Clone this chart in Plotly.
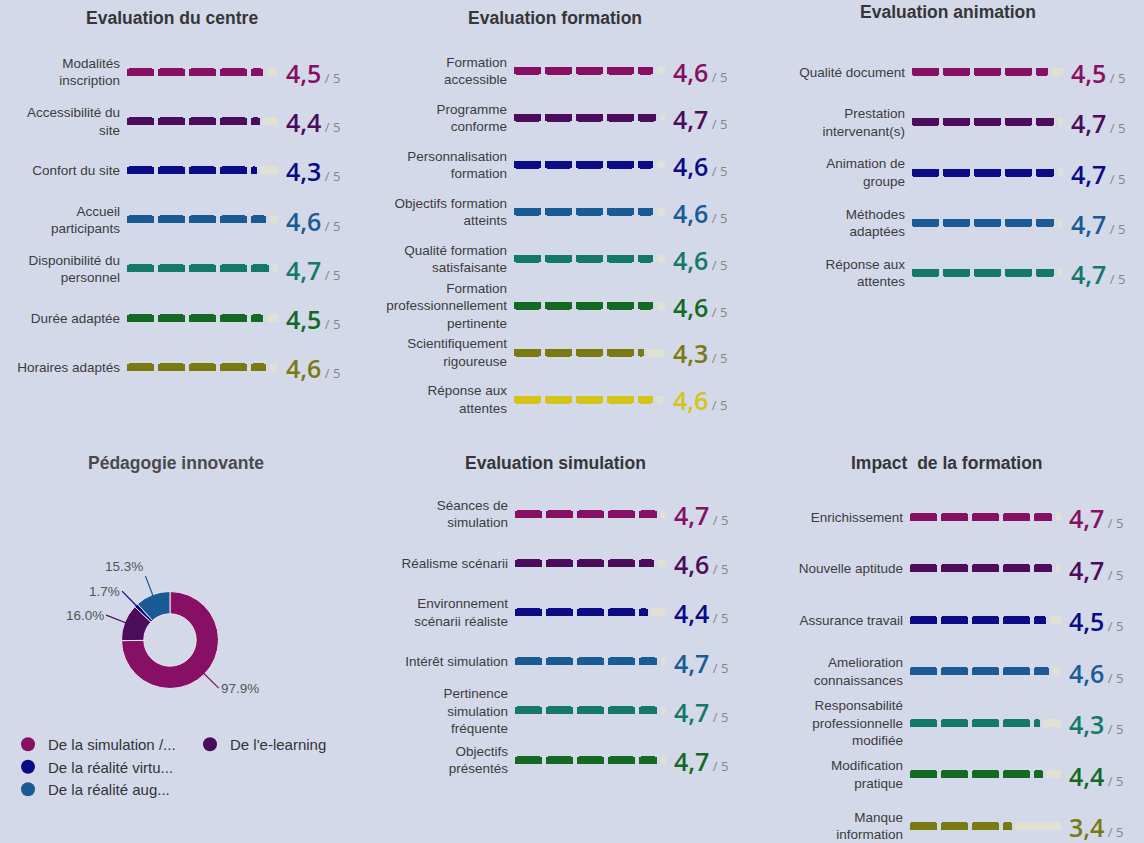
import math
import plotly.graph_objects as go

# ---------------- data ----------------
centre_labels = ["Modalités<br>inscription", "Accessibilité du<br>site", "Confort du site",
                 "Accueil<br>participants", "Disponibilité du<br>personnel", "Durée adaptée",
                 "Horaires adaptés"]
centre_values = [4.5, 4.4, 4.3, 4.6, 4.7, 4.5, 4.6]

formation_labels = ["Formation<br>accessible", "Programme<br>conforme", "Personnalisation<br>formation",
                    "Objectifs formation<br>atteints", "Qualité formation<br>satisfaisante",
                    "Formation<br>professionnellement<br>pertinente", "Scientifiquement<br>rigoureuse",
                    "Réponse aux<br>attentes"]
formation_values = [4.6, 4.7, 4.6, 4.6, 4.6, 4.6, 4.3, 4.6]

animation_labels = ["Qualité document", "Prestation<br>intervenant(s)", "Animation de<br>groupe",
                    "Méthodes<br>adaptées", "Réponse aux<br>attentes"]
animation_values = [4.5, 4.7, 4.7, 4.7, 4.7]

simulation_labels = ["Séances de<br>simulation", "Réalisme scénarii", "Environnement<br>scénarii réaliste",
                     "Intérêt simulation", "Pertinence<br>simulation<br>fréquente", "Objectifs<br>présentés"]
simulation_values = [4.7, 4.6, 4.4, 4.7, 4.7, 4.7]

impact_labels = ["Enrichissement", "Nouvelle aptitude", "Assurance travail",
                 "Amelioration<br>connaissances", "Responsabilité<br>professionnelle<br>modifiée",
                 "Modification<br>pratique", "Manque<br>information"]
impact_values = [4.7, 4.7, 4.5, 4.6, 4.3, 4.4, 3.4]

pedago_labels = ["De la simulation /...", "De l'e-learning", "De la réalité virtu...", "De la réalité aug..."]
pedago_values = [97.9, 16.0, 1.7, 15.3]

SCALE_MAX = 5

# ---------------- style ----------------
W, H = 1144, 843
BG = "#D4D9EA"
PALETTE = ["#870F64", "#4B0C5B", "#0B0B86", "#1A5B96", "#14786A", "#146A23", "#7B7A10", "#D4C419"]
TRACK = "#E1E1D3"
UNIT = 31          # px per scale point
GAP = 0.12         # gap between segments (scale units)
BAR_PX = 8
LABEL_FONT = "Liberation Sans, Arial, sans-serif"
NUM_FONT = "Open Sans, sans-serif"


def px2x(px):
    return px / W


def px2y(py):
    return 1 - py / H


panels = [
    dict(title="Evaluation du centre", labels=centre_labels, values=centre_values,
         x0=127, yfirst=72, ystep=49.2, tx=172, ty=18),
    dict(title="Evaluation formation", labels=formation_labels, values=formation_values,
         x0=514, yfirst=71, ystep=46.9, tx=555, ty=18),
    dict(title="Evaluation animation", labels=animation_labels, values=animation_values,
         x0=912, yfirst=72, ystep=50.25, tx=948, ty=12),
    dict(title="Evaluation simulation", labels=simulation_labels, values=simulation_values,
         x0=515, yfirst=514, ystep=49.2, tx=555, ty=463),
    dict(title="Impact  de la formation", labels=impact_labels, values=impact_values,
         x0=910, yfirst=517, ystep=51.5, tx=947, ty=463),
]

fig = go.Figure()
annotations = []
layout_axes = {}

for i, p in enumerate(panels, start=1):
    xs = "" if i == 1 else str(i)
    xref, yref = "x" + xs, "y" + xs
    labels, values = p["labels"], p["values"]
    n = len(labels)
    colors = [PALETTE[j % len(PALETTE)] for j in range(n)]
    width = BAR_PX / p["ystep"]

    # background track (remaining part up to the scale max)
    fig.add_trace(go.Bar(
        y=labels, x=[SCALE_MAX - v - GAP for v in values], base=values,
        orientation="h", width=width, marker=dict(color=TRACK, cornerradius=2, line=dict(width=0)),
        xaxis=xref, yaxis=yref, showlegend=False, hoverinfo="skip"))
    # segmented bars (one segment per scale point)
    for k in range(SCALE_MAX):
        seg = []
        for v in values:
            L = min(max(v - k, 0), 1) - GAP
            seg.append(L if L > 0 else None)
        fig.add_trace(go.Bar(
            y=labels, x=seg, base=[k] * n, orientation="h", width=width,
            marker=dict(color=colors, cornerradius=2, line=dict(width=0)),
            xaxis=xref, yaxis=yref, showlegend=False,
            customdata=values, hovertemplate="%{y}: %{customdata}<extra></extra>"))

    top = p["yfirst"] - p["ystep"] / 2
    bottom = min(p["yfirst"] + p["ystep"] * (n - 0.5), H)
    rng_bottom = -0.5 + (bottom - top) / p["ystep"]
    layout_axes["xaxis" + xs] = dict(
        domain=[px2x(p["x0"]), px2x(p["x0"] + SCALE_MAX * UNIT)], range=[0, SCALE_MAX],
        anchor=yref, visible=False, fixedrange=True)
    layout_axes["yaxis" + xs] = dict(
        domain=[px2y(bottom), px2y(top)], type="category", categoryorder="array",
        categoryarray=labels, range=[rng_bottom, -0.5], anchor=xref,
        showgrid=False, zeroline=False, showline=False, ticks="",
        ticklabelstandoff=6,
        tickfont=dict(family=LABEL_FONT, size=13.5, color="#3C3C3C"), fixedrange=True)

    for lab, v, c in zip(labels, values, colors):
        txt = (f"<span style='color:{c};font-size:25px;font-weight:600'>{str(v).replace('.', ',')}</span>"
               f"<span style='color:#858585;font-size:13px'>\u00a0/ 5</span>")
        annotations.append(dict(x=SCALE_MAX, y=lab, xref=xref, yref=yref, text=txt,
                                showarrow=False, xanchor="left", yanchor="middle",
                                xshift=2, yshift=-1, font=dict(family=NUM_FONT, size=25)))

    annotations.append(dict(x=px2x(p["tx"]), y=px2y(p["ty"]), xref="paper", yref="paper",
                            text=f"<b>{p['title']}</b>", showarrow=False,
                            xanchor="center", yanchor="middle",
                            font=dict(family=LABEL_FONT, size=17.5, color="#363636")))

# ---------------- donut ----------------
PIE_CX, PIE_CY, PIE_R = 170, 640, 48.5
fig.add_trace(go.Pie(
    labels=pedago_labels, values=pedago_values, hole=0.54, sort=False,
    direction="clockwise", rotation=0, textinfo="none", showlegend=False,
    marker=dict(colors=PALETTE[:4], line=dict(color="#EFE6F2", width=1)),
    domain=dict(x=[px2x(PIE_CX - PIE_R), px2x(PIE_CX + PIE_R)],
                y=[px2y(PIE_CY + PIE_R), px2y(PIE_CY - PIE_R)]),
    hovertemplate="%{label}: %{value}%<extra></extra>"))

annotations.append(dict(x=px2x(176), y=px2y(463), xref="paper", yref="paper",
                        text="<b>Pédagogie innovante</b>", showarrow=False,
                        xanchor="center", yanchor="middle",
                        font=dict(family=LABEL_FONT, size=17.5, color="#4A4A4A")))

total = sum(pedago_values)
cum = 0.0
LEAD = 20
for lab, v, c in zip(pedago_labels, pedago_values, PALETTE):
    mid = (cum + v / 2) / total * 2 * math.pi
    cum += v
    dx, dy = math.sin(mid), -math.cos(mid)
    hx, hy = PIE_CX + (PIE_R - 3) * dx, PIE_CY + (PIE_R - 3) * dy
    xa = "left" if dx > 0 else "right"
    ya = "bottom" if dy < -0.9 else "middle"
    annotations.append(dict(
        x=px2x(hx), y=px2y(hy), xref="paper", yref="paper",
        ax=(LEAD + 3) * dx, ay=(LEAD + 3) * dy, axref="pixel", ayref="pixel",
        text=f"{v:.1f}%", showarrow=True, arrowhead=0, arrowwidth=1.2, arrowcolor=c,
        xanchor=xa, yanchor=ya,
        font=dict(family=LABEL_FONT, size=13.5, color="#555555")))

# legend entries (circle markers, as in the original)
for j, (lab, c) in enumerate(zip(pedago_labels, PALETTE)):
    fig.add_trace(go.Scatter(
        x=[None], y=[None], mode="markers", name=lab,
        marker=dict(color=c, size=14, symbol="circle"),
        legend="legend2" if j == 1 else "legend", legendgroup=f"g{j}",
        showlegend=True, hoverinfo="skip"))

legend_common = dict(xanchor="left", yanchor="top", bgcolor="rgba(0,0,0,0)",
                     font=dict(family=LABEL_FONT, size=15, color="#333333"),
                     tracegroupgap=0, itemclick=False, itemdoubleclick=False,
                     itemwidth=30, orientation="v")

fig.update_layout(
    width=W, height=H, margin=dict(l=0, r=0, t=0, b=0),
    paper_bgcolor=BG, plot_bgcolor=BG, barmode="overlay", bargap=0,
    annotations=annotations,
    legend=dict(x=px2x(8), y=px2y(728), **legend_common),
    legend2=dict(x=px2x(190), y=px2y(728), **legend_common),
    **layout_axes)

fig.write_html("out.html", config={"displayModeBar": False},
               post_script="document.body.style.margin='0';")
